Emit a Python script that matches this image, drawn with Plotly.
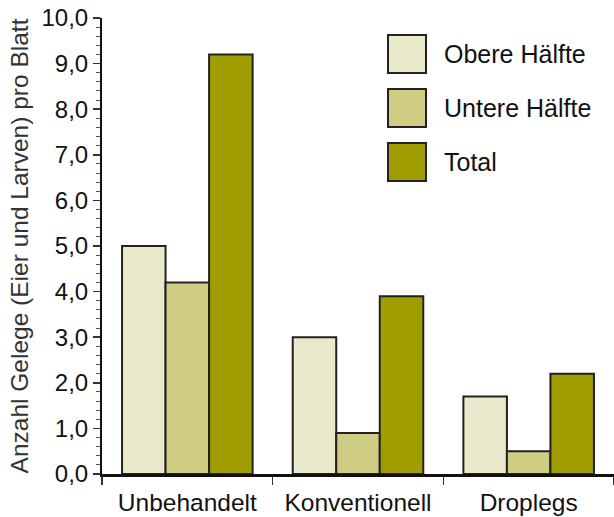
import plotly.graph_objects as go

categories = ["Unbehandelt", "Konventionell", "Droplegs"]
series_names = ["Obere Hälfte", "Untere Hälfte", "Total"]
obere = [5.0, 3.0, 1.7]
untere = [4.2, 0.9, 0.5]
total = [9.2, 3.9, 2.2]
series_values = [obere, untere, total]
colors = ["#EBE9CB", "#CFCC83", "#A09D00"]
y_title = "Anzahl Gelege (Eier und Larven) pro Blatt"

W, H = 614, 517
ml, mr, mt, mb = 102, 0, 18, 43
font = "Liberation Sans, Arial, sans-serif"

fig = go.Figure()
for name, vals, col in zip(series_names, series_values, colors):
    fig.add_trace(go.Bar(
        x=categories, y=vals, name=name,
        marker=dict(color=col, line=dict(color="#222222", width=2)),
        showlegend=False,
    ))

# custom legend with large swatches
pw, ph = W - ml - mr, H - mt - mb
def px_x(px):
    return (px - ml) / pw
def px_y(py):
    return (H - mb - py) / ph

box_tops = [35, 89, 143]
box_size = 38
for i, (name, col) in enumerate(zip(series_names, colors)):
    top = box_tops[i]
    fig.add_shape(type="rect", xref="paper", yref="paper",
                  x0=px_x(388), x1=px_x(388 + box_size),
                  y0=px_y(top + box_size), y1=px_y(top),
                  fillcolor=col, line=dict(color="#222222", width=2))
    fig.add_annotation(xref="paper", yref="paper", x=px_x(442), y=px_y(top + box_size / 2),
                       text=name, showarrow=False, xanchor="left", yanchor="middle",
                       font=dict(family=font, size=25, color="#111111"))

fig.update_layout(
    width=W, height=H,
    margin=dict(l=ml, r=mr, t=mt, b=mb, pad=0),
    paper_bgcolor="white", plot_bgcolor="white",
    barmode="group", bargap=0.235, bargroupgap=0,
    separators=", ",
    font=dict(family=font, size=24, color="#111111"),
    xaxis=dict(
        range=[-0.5, 2.5], showline=True, linecolor="#111111", linewidth=3,
        ticks="outside", tickson="boundaries", ticklen=8, tickwidth=1.5, tickcolor="#333333",
        tickfont=dict(size=24.5), showgrid=False, zeroline=False, automargin=False,
        ticklabelstandoff=5,
    ),
    yaxis=dict(
        range=[0, 10], dtick=1, tickformat=".1f", showline=True, linecolor="#111111",
        linewidth=2, ticks="outside", ticklen=7, tickwidth=1.5, tickcolor="#333333",
        minor=dict(dtick=0.2, ticks="outside", ticklen=4, tickcolor="#555555", tickwidth=1),
        showgrid=False, zeroline=False, tickfont=dict(size=24), automargin=False,
        title=dict(text=y_title, font=dict(size=24.5, color="#333333"), standoff=6),
    ),
)

fig.write_html("out.html", config={"displayModeBar": False, "staticPlot": True},
               post_script="document.body.style.margin='0';document.body.style.padding='0';")
